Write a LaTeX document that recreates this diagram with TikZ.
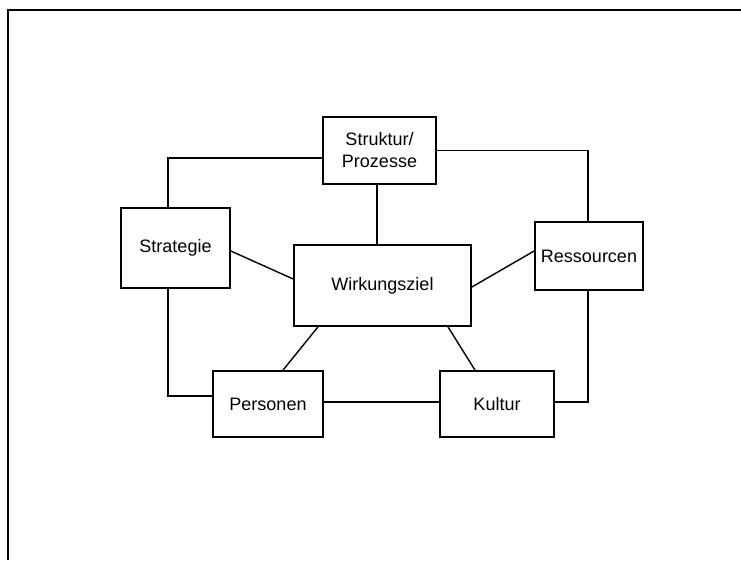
\documentclass[tikz,border=0pt]{standalone}
\usepackage{fontspec}
\setmainfont{Liberation Sans}
\begin{document}
\begin{tikzpicture}[x=1pt,y=-1pt,
  box/.style={draw,line width=1.7pt,rectangle,inner sep=0pt,align=center,
    font=\fontsize{18}{22}\selectfont},
  link/.style={draw,line width=1.4pt}]
\useasboundingbox (0,0) rectangle (741,560);
% frame (top and left edges only)
\draw[line width=2.8pt] (8,560) -- (8,10) -- (741,10);
% boxes
\node[box,minimum width=113pt,minimum height=67pt] (strukt) at (379.5,150.5) {Struktur/\\Prozesse};
\node[box,minimum width=109pt,minimum height=80pt] (strat) at (175.5,248) {Strategie};
\node[box,minimum width=177pt,minimum height=81pt] (wirk) at (382.5,285.5) {Wirkungsziel};
\node[box,minimum width=108pt,minimum height=68pt] (ress) at (589,256) {Ressourcen};
\node[box,minimum width=110pt,minimum height=66pt] (pers) at (268,404) {Personen};
\node[box,minimum width=114pt,minimum height=66pt] (kult) at (497,404) {Kultur};
% connectors
\path[link] ([yshift=-7.5pt]strukt.west) -| ([xshift=-7.5pt]strat.north);
\path[link] (strukt.east) -| ([xshift=-1pt]ress.north);
\path[link] ([xshift=-2.5pt]strukt.south) -- ([xshift=-2.5pt]strukt.south |- wirk.north);
\path[link] ([yshift=-3pt]strat.east) -- ([yshift=6.5pt]wirk.west);
\path[link] ([yshift=5pt]ress.west) -- ([yshift=-1.5pt]wirk.east);
\path[link] ([xshift=-64.5pt]wirk.south) -- ([xshift=15pt]pers.north);
\path[link] ([xshift=65.5pt]wirk.south) -- ([xshift=-22pt]kult.north);
\path[link] ([xshift=-7.5pt]strat.south) |- ([yshift=8pt]pers.west);
\path[link] ([yshift=2pt]pers.east) -- ([yshift=2pt]kult.west);
\path[link] ([xshift=-1pt]ress.south) |- ([yshift=2pt]kult.east);
\end{tikzpicture}
\end{document}
